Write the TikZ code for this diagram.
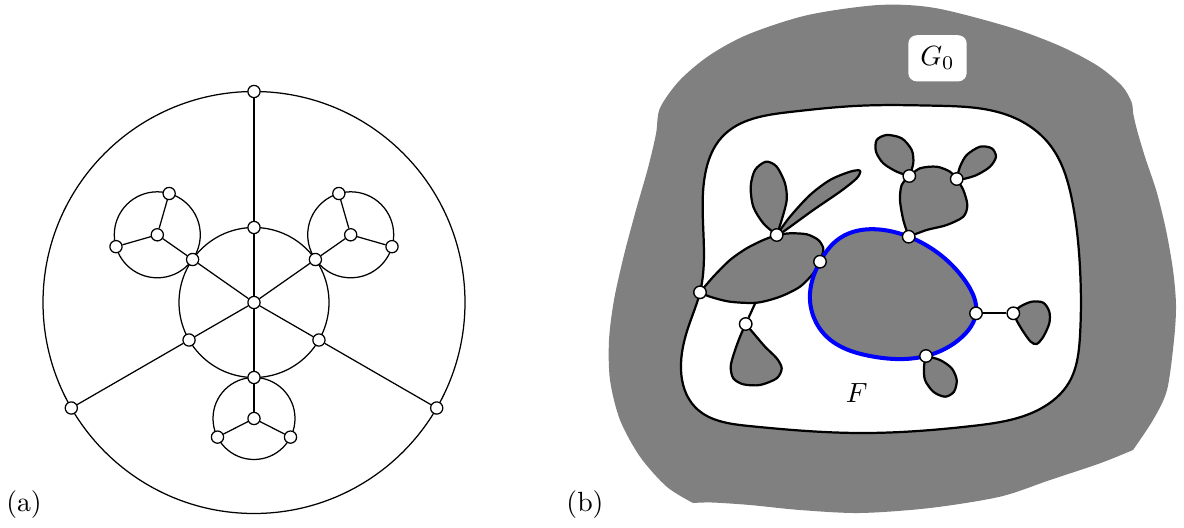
\documentclass[tikz,border=0pt]{standalone}
\usetikzlibrary{hobby}
\begin{document}
\begin{tikzpicture}[x=0.36pt,y=-0.36pt,
  vtx/.style={circle,draw,fill=white,inner sep=0pt,minimum size=4.4pt,line width=0.45pt},
  thinedge/.style={line width=0.45pt},
  blob/.style={fill=gray,draw=black,line width=0.8pt,line join=round},
  blueblob/.style={fill=gray,draw=blue,line width=1.45pt},
  bedge/.style={line width=0.8pt},
  lbl/.style={inner sep=0pt}]
\useasboundingbox (0,0) rectangle (1184,528);

% ---------------- (a) ----------------
\draw[thinedge] (254,302.5) circle[radius=75.96pt];
\draw[thinedge] (254,302.5) circle[radius=27pt];
\draw[thinedge] (157.3,234.8) circle[radius=15.48pt];
\draw[thinedge] (350.7,234.8) circle[radius=15.48pt];
\draw[thinedge] (254,418.5) circle[radius=14.76pt];

\node[vtx] (aC) at (254,302.5) {};
\node[vtx] (aO1) at (254,91.5) {};
\node[vtx] (aO2) at (71.3,408) {};
\node[vtx] (aO3) at (436.7,408) {};
\node[vtx] (aIt) at (254,227.5) {};
\node[vtx] (aIb) at (254,377.5) {};
\node[vtx] (aIul) at (192.6,259.5) {};
\node[vtx] (aIur) at (315.4,259.5) {};
\node[vtx] (aIll) at (189.05,340) {};
\node[vtx] (aIlr) at (318.95,340) {};
\node[vtx] (aS1) at (157.3,234.8) {};
\node[vtx] (aS2) at (350.7,234.8) {};
\node[vtx] (aS3) at (254,418.5) {};
\node[vtx] (aP1) at (169.15,193.5) {};
\node[vtx] (aP2) at (116,246.65) {};
\node[vtx] (aQ1) at (338.85,193.5) {};
\node[vtx] (aQ2) at (392,246.65) {};
\node[vtx] (aR1) at (217.5,437.1) {};
\node[vtx] (aR2) at (290.5,437.1) {};

\draw[thinedge] (aO1) -- (aIt) -- (aC) -- (aIb) -- (aS3);
\draw[thinedge] (aC) -- (aIul) -- (aS1);
\draw[thinedge] (aC) -- (aIur) -- (aS2);
\draw[thinedge] (aC) -- (aIll) -- (aO2);
\draw[thinedge] (aC) -- (aIlr) -- (aO3);
\draw[thinedge] (aS1) -- (aP1);
\draw[thinedge] (aS1) -- (aP2);
\draw[thinedge] (aS2) -- (aQ1);
\draw[thinedge] (aS2) -- (aQ2);
\draw[thinedge] (aS3) -- (aR1);
\draw[thinedge] (aS3) -- (aR2);

\node[lbl] (la) at (24,505) {(a)};

% ---------------- (b) ----------------
\coordinate (cv1) at (700,292.3);
\coordinate (cv2) at (776.7,235);
\coordinate (cv3) at (820,261.7);
\coordinate (cv4) at (908.7,236.7);
\coordinate (cv5) at (909.3,176);
\coordinate (cv6) at (956.7,179);
\coordinate (cv7) at (976,313.3);
\coordinate (cv8) at (1013.3,313.3);
\coordinate (cv9) at (926,356);
\coordinate (cv10) at (745.7,324);
\coordinate (lensb) at (755.5,302.6);

% outer gray region
\fill[gray] plot[smooth] coordinates {(693,503) (666.7,486.7) (640,456.7) (620,420) (610,380)
    (609,340) (614,300) (624,255) (636,210) (648,168) (656,134) (660,108) (680,80) (710,55)
    (749,34) (808,15) (879,5) (935,8) (1009,27) (1060,46) (1098,66) (1122,86) (1131.5,102)
    (1133.3,114) (1137,130) (1145,157) (1156.7,192) (1166,230) (1173,270) (1176,305)
    (1174,340) (1167,390) (1153,420) (1133,450)}
  -- plot[smooth] coordinates {(1133,450) (1100,463.3) (1050,480) (1000,496.7) (930,508)
    (860,513) (800,510) (750,505) (712,502.5) (693,503)} -- cycle;

% white face
\draw[fill=white,line width=0.8pt, use Hobby shortcut, closed=true]
  (705,175) .. (722,137) .. (790,112) .. (860.6,105.7)
  .. (935,105.7) .. (1009.5,115.8) .. (1050,145) .. (1072,200)
  .. (1080,268) .. (1080,335.6) .. (1069,382.5) .. (1040,409) .. (972,426)
  .. (860.6,433) .. (749,426) .. (695,407) .. (681,370) .. (689,325)
  .. (cv1) .. (703.3,230);

% lens
\draw[blob] plot[smooth] coordinates {(cv1) (713.3,276.7) (730,260) (746.7,248.3) (763.3,240) (cv2)}
  -- plot[smooth] coordinates {(cv2) (790,233.3) (806.7,234.3) (818.3,240) (823.3,248.3) (821.7,256.7) (cv3)}
  -- plot[smooth] coordinates {(cv3) (813.3,273.3) (800,286.7) (780,296.7) (756.7,302.7) (730,301.7) (710,296.7) (cv1)}
  -- cycle;
% ears
\draw[blob] plot[smooth] coordinates {(cv2) (763.3,223.3) (753.3,206.7) (750.7,186.7) (755,170) (766,161.7)
  (776.7,166.7) (785,183.3) (786.7,200) (781.7,220) (cv2)} -- cycle;
\draw[blob] plot[smooth] coordinates {(cv2) (790,216.7) (810,195) (830,180) (850,171.7) (860,170.7)
  (856.7,178.3) (840,191.7) (813.3,210) (783.3,231.7) (cv2)} -- cycle;

% upper body
\draw[blob] plot[smooth] coordinates {(cv4) (903.3,220) (900,200) (901.7,185) (cv5)}
  -- plot[smooth] coordinates {(cv5) (920,168.3) (936.7,166.7) (950,171.7) (cv6)}
  -- plot[smooth] coordinates {(cv6) (963.3,190) (967.3,205) (963.3,216.7) (946.7,225) (926.7,230) (cv4)}
  -- cycle;
\draw[blob] plot[smooth] coordinates {(cv5) (896.7,171.7) (883.3,163.3) (876,151.7) (876.7,140) (886.7,135)
  (901.7,138.3) (911.7,150) (913.3,163.3) (cv5)} -- cycle;
\draw[blob] plot[smooth] coordinates {(cv6) (960,166.7) (966.7,155) (980,146.7) (991.7,148.3) (996,156.7)
  (990,166.7) (976.7,175) (963.3,179) (cv6)} -- cycle;

% pendants
\draw[blob] plot[smooth] coordinates {(cv10) (740,336.7) (734,353.3) (730.7,366.7) (733.3,378.3) (743.3,384.3)
  (760,385) (776.7,378.3) (781.7,368.3) (776.7,358.3) (765,346.7) (755,335) (cv10)} -- cycle;
\draw[blob] plot[smooth] coordinates {(cv9) (924,366.7) (925,380) (933.3,391.7) (945,396.7) (954,391.7)
  (956.7,380) (951.7,368.3) (940,360) (cv9)} -- cycle;
\draw[blob] plot[smooth] coordinates {(cv8) (1020,306.7) (1031.7,301.7) (1043.3,302.7) (1049.3,311.7)
  (1049.3,323.3) (1043.3,336.7) (1036.7,344) (1030.7,341.7) (1023.3,331.7) (1017.3,321.7) (cv8)} -- cycle;

% blue face boundary
\draw[blueblob, use Hobby shortcut, closed=true]
  (cv3) .. (810,293.3) .. (826.7,336.7) .. (870,356)
  .. (cv9) .. (962,337) .. (cv7) .. (966,282) .. (cv4) .. (876.7,229.3) .. (840,238);

% vertices
\foreach \n in {1,...,10} {\node[vtx,line width=0.5pt,minimum size=4.5pt] (v\n) at (cv\n) {};}

\draw[bedge] (v7) -- (v8);
\draw[bedge] (v10) -- (lensb);

\node[fill=white,rounded corners=3pt,minimum width=21pt,minimum height=16.6pt,inner sep=0pt] (g0) at (937.5,58.3) {$G_0$};
\node[lbl] (fF) at (856.7,392.7) {$F$};
\node[lbl] (lb) at (585,505) {(b)};
\end{tikzpicture}
\end{document}
